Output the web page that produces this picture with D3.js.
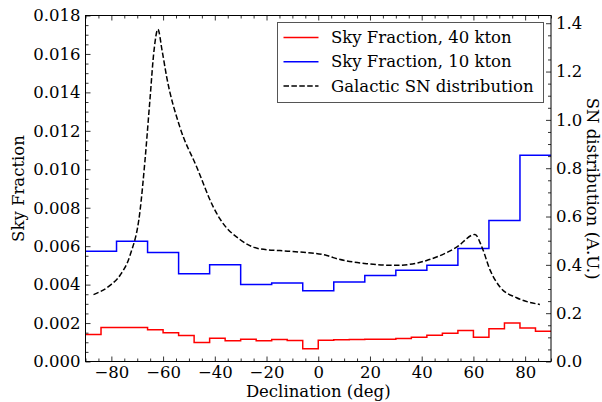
<!DOCTYPE html>
<html><head><meta charset="utf-8">
<script src="https://cdn.jsdelivr.net/npm/d3@7"></script>
<style>
body{margin:0;background:#fff;}
text{font-family:"DejaVu Serif",serif;fill:#000;}
</style></head>
<body><svg id="c" width="602" height="402"></svg>
<script>
// Red: 6-degree bins from -90 to 90
const redEdgesStart = -90, redBin = 6;
const red40 = [0.00140,0.00177,0.00177,0.00177,0.00165,0.00149,0.00135,0.00099,0.00121,0.00108,
               0.00116,0.00108,0.00114,0.00109,0.00066,0.00111,0.00113,0.00114,0.00116,0.00116,
               0.00120,0.00126,0.00137,0.00147,0.00161,0.00126,0.00170,0.00200,0.00174,0.00158];
// Blue: 12-degree bins
const blueBin = 12;
const blue10 = [0.00574,0.00626,0.00567,0.00456,0.00503,0.00401,0.00409,0.00368,
                0.00413,0.00447,0.00475,0.00501,0.00588,0.00734,0.01073];
// Galactic SN distribution (declination, arbitrary units)
const snDec = [-86.9,-80.5,-76.7,-72.8,-68.9,-67.0,-65.1,-63.5,-62.0,-60.4,-58.6,-53.5,-47.0,-40.6,-38.0,-30.3,-22.5,-14.8,-7.1,3.3,5.8,18.7,30.3,41.9,53.5,60.6,63.3,66.5,70.3,76.7,85.7];
const snVal = [0.277,0.315,0.356,0.439,0.625,0.832,1.081,1.288,1.375,1.288,1.177,0.970,0.805,0.640,0.590,0.505,0.466,0.459,0.453,0.439,0.430,0.405,0.398,0.418,0.473,0.526,0.473,0.377,0.308,0.264,0.236];
const xTicks = [-80,-60,-40,-20,0,20,40,60,80];
const yTicks = [0,0.002,0.004,0.006,0.008,0.010,0.012,0.014,0.016,0.018];
const y2Ticks = [0,0.2,0.4,0.6,0.8,1.0,1.2,1.4];
const legendLabels = ["Sky Fraction, 40 kton","Sky Fraction, 10 kton","Galactic SN distribution"];

const svg = d3.select("#c");
const L = 85.5, R = 551, T = 15.5, B = 361.5;
const x = d3.scaleLinear().domain([-90,90]).range([L,R]);
const y = d3.scaleLinear().domain([0,0.018]).range([B,T]);
const y2 = d3.scaleLinear().domain([0,1.432]).range([B,T]);
const fs = 16.5;

function stepData(vals, start, bin){
  const pts = vals.map((v,i)=>[start+i*bin, v]);
  pts.push([start+vals.length*bin, vals[vals.length-1]]);
  return pts;
}
const stepLine = d3.line().x(d=>x(d[0])).y(d=>y(d[1])).curve(d3.curveStepAfter);

const g = svg.append("g");
g.append("clipPath").attr("id","clip").append("rect").attr("x",L).attr("y",T).attr("width",R-L).attr("height",B-T);

g.append("path").datum(stepData(red40,redEdgesStart,redBin)).attr("d",stepLine)
  .attr("fill","none").attr("stroke","#ff0000").attr("stroke-width",1.5).attr("clip-path","url(#clip)");
g.append("path").datum(stepData(blue10,-90,blueBin)).attr("d",stepLine)
  .attr("fill","none").attr("stroke","#0000ff").attr("stroke-width",1.5).attr("clip-path","url(#clip)");
const snLine = d3.line().x((d,i)=>x(snDec[i])).y((d,i)=>y2(snVal[i])).curve(d3.curveMonotoneX);
g.append("path").datum(snVal).attr("d",snLine)
  .attr("fill","none").attr("stroke","#000").attr("stroke-width",1.5).attr("stroke-dasharray","5.5,2.4");

// axes
function styleAxis(sel){
  sel.select(".domain").remove();
  sel.selectAll("line").attr("stroke","#000").attr("stroke-width",0.8);
  sel.selectAll("text").style("font-family","DejaVu Serif").style("font-size",fs+"px");
}
const minorX = d3.range(-90,91,5).filter(v=>v%20!==0);
const minorY = d3.range(0,0.01801,0.0005).filter(v=>Math.abs(v/0.002-Math.round(v/0.002))>1e-6);
const minorY2 = d3.range(0,1.4301,0.05).filter(v=>Math.abs(v/0.2-Math.round(v/0.2))>1e-6);

const fmtMinus = v => (v<0?"\u2212":"")+Math.abs(v);
svg.append("g").attr("transform",`translate(0,${B})`)
  .call(d3.axisBottom(x).tickValues(xTicks).tickSize(-5).tickPadding(5).tickFormat(fmtMinus)).call(styleAxis);
svg.append("g").attr("transform",`translate(0,${B})`)
  .call(d3.axisBottom(x).tickValues(minorX).tickSize(-3).tickFormat("")).call(styleAxis);
svg.append("g").attr("transform",`translate(0,${T})`)
  .call(d3.axisTop(x).tickValues(xTicks).tickSize(-5).tickFormat("")).call(styleAxis);
svg.append("g").attr("transform",`translate(0,${T})`)
  .call(d3.axisTop(x).tickValues(minorX).tickSize(-3).tickFormat("")).call(styleAxis);
svg.append("g").attr("transform",`translate(${L},0)`)
  .call(d3.axisLeft(y).tickValues(yTicks).tickSize(-5).tickPadding(5).tickFormat(d3.format(".3f"))).call(styleAxis);
svg.append("g").attr("transform",`translate(${L},0)`)
  .call(d3.axisLeft(y).tickValues(minorY).tickSize(-3).tickFormat("")).call(styleAxis);
svg.append("g").attr("transform",`translate(${R},0)`)
  .call(d3.axisRight(y2).tickValues(y2Ticks).tickSize(-5).tickPadding(5).tickFormat(d3.format(".1f"))).call(styleAxis);
svg.append("g").attr("transform",`translate(${R},0)`)
  .call(d3.axisRight(y2).tickValues(minorY2).tickSize(-3).tickFormat("")).call(styleAxis);

svg.append("rect").attr("x",L).attr("y",T).attr("width",R-L).attr("height",B-T)
  .attr("fill","none").attr("stroke","#000").attr("stroke-width",1);

// axis labels
svg.append("text").attr("x",(L+R)/2).attr("y",397).attr("text-anchor","middle")
  .style("font-size",fs+"px").text("Declination (deg)");
svg.append("text").attr("transform",`translate(24,${(T+B)/2}) rotate(-90)`).attr("text-anchor","middle")
  .style("font-size",fs+"px").text("Sky Fraction");
svg.append("text").attr("transform",`translate(587,${(T+B)/2}) rotate(90)`).attr("text-anchor","middle")
  .style("font-size",fs+"px").text("SN distribution (A.U.)");

// legend
const lg = svg.append("g");
lg.append("rect").attr("x",277.5).attr("y",22.5).attr("width",266).attr("height",80)
  .attr("fill","#fff").attr("stroke","#555").attr("stroke-width",1);
const lstyles = [{c:"#ff0000",d:null},{c:"#0000ff",d:null},{c:"#000",d:"5.5,2.4"}];
legendLabels.forEach((t,i)=>{
  const yy = 37.5 + i*24.3;
  lg.append("line").attr("x1",283.5).attr("x2",318.5).attr("y1",yy).attr("y2",yy)
    .attr("stroke",lstyles[i].c).attr("stroke-width",1.5).attr("stroke-dasharray",lstyles[i].d);
  lg.append("text").attr("x",331).attr("y",yy+5.5).style("font-size",fs+"px").text(t);
});
</script></body></html>
